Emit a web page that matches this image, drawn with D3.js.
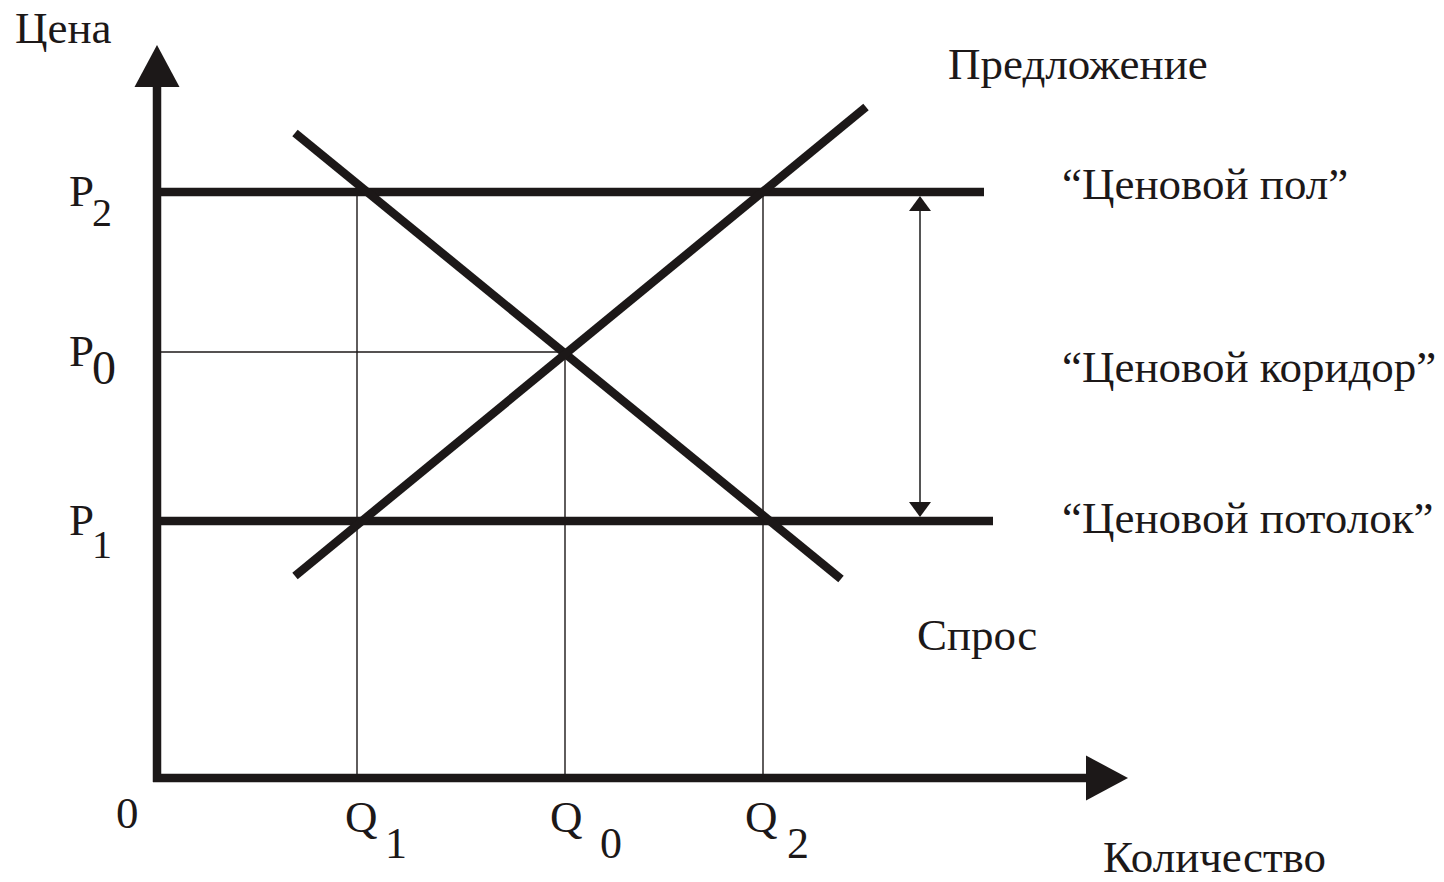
<!DOCTYPE html>
<html>
<head>
  <meta charset="utf-8">
  <title>Ценовой коридор</title>
  <script src="https://d3js.org/d3.v7.min.js"></script>
  <style>
    html, body {
      margin: 0;
      padding: 0;
      background: #fff;
    }
    svg { display: block; }
    text {
      font-family: "Liberation Serif", "Times New Roman", serif;
      fill: #1c1818;
    }
    .thick { stroke: #1c1818; stroke-width: 8.5px; fill: none; }
    .thin { stroke: #1c1818; stroke-width: 1.4px; fill: none; }
    .corridor { stroke: #555; stroke-width: 2px; fill: none; }
    .head { fill: #1c1818; stroke: none; }
  </style>
</head>
<body>
  <svg width="1444" height="882"></svg>

  <script>
    // values (abstract units, 0 at the axes' origin)
    const priceLevels = [
      { id: "P2", value: 5.86, sub: "2" },
      { id: "P0", value: 4.26, sub: "0" },
      { id: "P1", value: 2.57, sub: "1" }
    ];
    const qtyLevels = [
      { id: "Q1", value: 2.00, sub: "1" },
      { id: "Q0", value: 4.08, sub: "0" },
      { id: "Q2", value: 6.06, sub: "2" }
    ];
    const demand = [ { q: 1.38, p: 6.45 }, { q: 6.84, p: 1.99 } ];
    const supply = [ { q: 1.38, p: 2.02 }, { q: 7.09, p: 6.71 } ];
    const floorEnd = 8.27;      // "Ценовой пол" line reaches this quantity
    const ceilingEnd = 8.36;    // "Ценовой потолок" line
    const corridorAt = 7.63;    // double arrow between the two
    const axisMax = { q: 9.71, p: 7.33 };

    const svg = d3.select("svg");

    const x = d3.scaleLinear().domain([0, 10]).range([157, 1157]);
    const y = d3.scaleLinear().domain([0, 8]).range([778, -22]);

    const P = {};
    priceLevels.forEach(d => P[d.id] = d.value);
    const Q = {};
    qtyLevels.forEach(d => Q[d.id] = d.value);

    // thin guide lines: P0 horizontal, Q verticals up to the curve crossings
    const guides = [
      { x1: 0, y1: P.P0, x2: Q.Q0, y2: P.P0 },
      { x1: Q.Q1, y1: 0, x2: Q.Q1, y2: P.P2 },
      { x1: Q.Q0, y1: 0, x2: Q.Q0, y2: P.P0 },
      { x1: Q.Q2, y1: 0, x2: Q.Q2, y2: P.P2 }
    ];
    svg.selectAll(".thin")
      .data(guides)
      .enter().append("line")
      .attr("class", "thin")
      .attr("x1", d => x(d.x1)).attr("y1", d => y(d.y1))
      .attr("x2", d => x(d.x2)).attr("y2", d => y(d.y2));

    // price floor / ceiling
    const bounds = [
      { p: P.P2, end: floorEnd },
      { p: P.P1, end: ceilingEnd }
    ];
    svg.selectAll(".bound")
      .data(bounds)
      .enter().append("line")
      .attr("class", "thick bound")
      .attr("x1", x(0)).attr("y1", d => y(d.p))
      .attr("x2", d => x(d.end)).attr("y2", d => y(d.p));

    // supply and demand
    const line = d3.line().x(d => x(d.q)).y(d => y(d.p));
    svg.append("path").attr("class", "thick").attr("d", line(demand));
    svg.append("path").attr("class", "thick").attr("d", line(supply));

    // axes with arrowheads
    const ah = 42, aw = 22.5;
    svg.append("line").attr("class", "thick")
      .attr("x1", x(0)).attr("y1", y(0) + 4)
      .attr("x2", x(0)).attr("y2", y(axisMax.p) + ah);
    svg.append("line").attr("class", "thick")
      .attr("x1", x(0) - 4).attr("y1", y(0))
      .attr("x2", x(axisMax.q) - ah + 2).attr("y2", y(0));
    svg.append("path").attr("class", "head")
      .attr("d", `M${x(0)},${y(axisMax.p)} L${x(0) + aw},${y(axisMax.p) + ah} L${x(0) - aw},${y(axisMax.p) + ah} Z`);
    svg.append("path").attr("class", "head")
      .attr("d", `M${x(axisMax.q)},${y(0)} L${x(axisMax.q) - ah},${y(0) - aw} L${x(axisMax.q) - ah},${y(0) + aw} Z`);

    // corridor double arrow
    const cx = x(corridorAt);
    const yTop = y(P.P2) + 4, yBot = y(P.P1) - 4;
    svg.append("line").attr("class", "corridor")
      .attr("x1", cx).attr("y1", yTop + 10).attr("x2", cx).attr("y2", yBot - 10);
    svg.append("path").attr("class", "head")
      .attr("d", `M${cx},${yTop} L${cx + 11},${yTop + 15} L${cx - 11},${yTop + 15} Z`);
    svg.append("path").attr("class", "head")
      .attr("d", `M${cx},${yBot} L${cx + 11},${yBot - 15} L${cx - 11},${yBot - 15} Z`);

    // labels
    const label = (tx, ty, s, size) => svg.append("text")
      .attr("x", tx).attr("y", ty)
      .style("font-size", size + "px")
      .text(s);

    label(15, 43, "Цена", 45);
    label(948, 79, "Предложение", 45);
    label(1062, 199, "“Ценовой пол”", 45);
    label(1062, 382, "“Ценовой коридор”", 45);
    label(1062, 533, "“Ценовой потолок”", 45);
    label(917, 650, "Спрос", 45);
    label(1103, 872, "Количество", 45);
    label(116, 828, "0", 45);

    // P labels on the price axis
    const pSub = { "2": [20, 40], "0": [18, 48], "1": [23, 40] };
    priceLevels.forEach(d => {
      label(69, y(d.value) + 14, "P", 45);
      label(92, y(d.value) + 14 + pSub[d.sub][0], d.sub, pSub[d.sub][1]);
    });

    // Q labels under the quantity axis
    const qOff = { "1": [-12, 28, 44], "0": [-15, 35, 44], "2": [-18, 24, 44] };
    qtyLevels.forEach(d => {
      const o = qOff[d.sub];
      label(x(d.value) + o[0], 832, "Q", 45);
      label(x(d.value) + o[1], 858, d.sub, o[2]);
    });
  </script>
</body>
</html>
